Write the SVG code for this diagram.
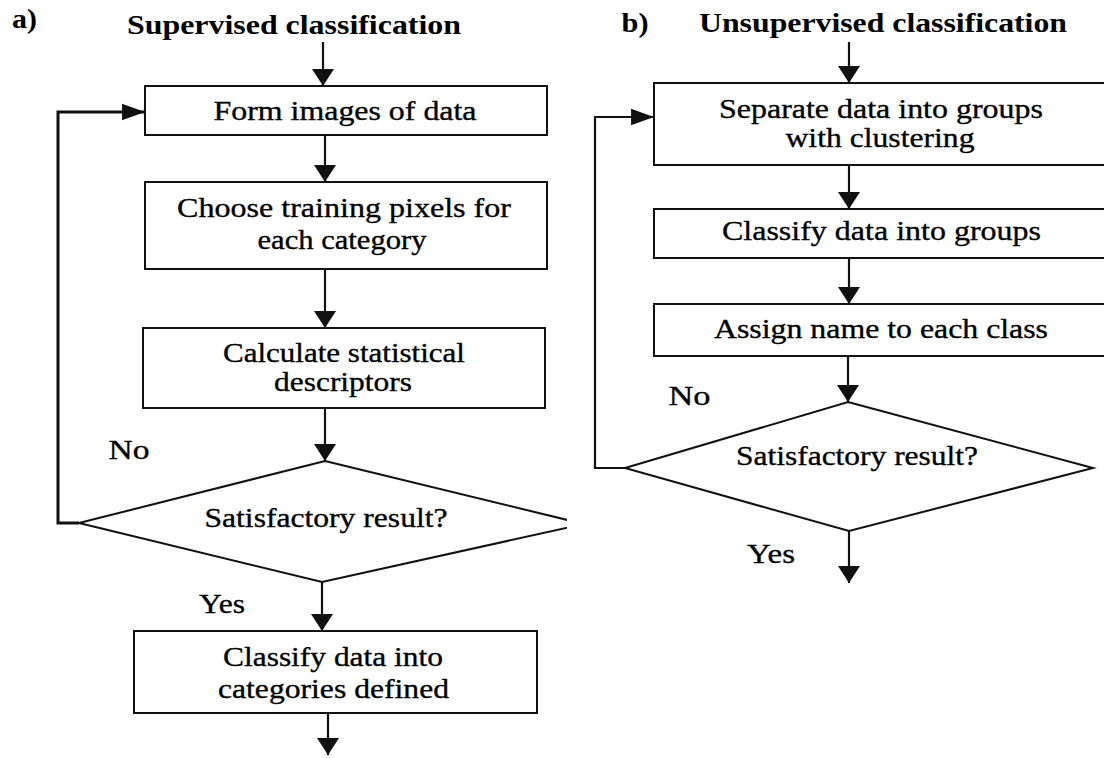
<svg xmlns="http://www.w3.org/2000/svg" width="1104" height="758" viewBox="0 0 1104 758">
<style>
.box{fill:#fff;stroke:#111;stroke-width:2}
.dia{fill:#fff;stroke:#111;stroke-width:2}
.ln{fill:none;stroke:#111;stroke-width:2.2}
.t{font-family:"Liberation Serif","Times New Roman",serif;font-size:28px;fill:#000;stroke:#000;stroke-width:0.35;text-anchor:middle}
.h{font-family:"Liberation Serif","Times New Roman",serif;font-size:28px;font-weight:bold;fill:#000;text-anchor:middle}
</style>
<defs>
<marker id="arrD" markerUnits="userSpaceOnUse" markerWidth="24" markerHeight="24" refX="17" refY="0" viewBox="0 -12 18 24" orient="auto" overflow="visible">
<path d="M0,-11 L17,0 L0,11 z" fill="#111"/>
</marker>
<marker id="arrR" markerUnits="userSpaceOnUse" markerWidth="24" markerHeight="20" refX="22" refY="0" viewBox="0 -9 23 18" orient="auto" overflow="visible">
<path d="M0,-8 L22,0 L0,8 z" fill="#111"/>
</marker>
<clipPath id="clipL"><rect x="0" y="0" width="567" height="758"/></clipPath>
</defs>
<rect width="1104" height="758" fill="#fff"/>

<g id="titles">
<text class="h" x="24.5" y="28" textLength="25" lengthAdjust="spacingAndGlyphs">a)</text>
<text class="h" x="294" y="34" textLength="334" lengthAdjust="spacingAndGlyphs">Supervised classification</text>
<text class="h" x="635" y="32" textLength="27" lengthAdjust="spacingAndGlyphs">b)</text>
<text class="h" x="883" y="32" textLength="368" lengthAdjust="spacingAndGlyphs">Unsupervised classification</text>
</g>

<g id="connectors">
<path class="ln" d="M323,42 L323,86" marker-end="url(#arrD)"/>
<path class="ln" d="M325,135 L325,182" marker-end="url(#arrD)"/>
<path class="ln" d="M325,269 L325,328" marker-end="url(#arrD)"/>
<path class="ln" d="M325,408 L325,461" marker-end="url(#arrD)"/>
<path class="ln" d="M322,582 L322,631" marker-end="url(#arrD)"/>
<path class="ln" d="M328,713 L328,755" marker-end="url(#arrD)"/>
<path class="ln" style="stroke-width:3" d="M79,523 L58,523 L58,112 L145,112" marker-end="url(#arrR)"/>
<path class="ln" d="M849,42 L849,83" marker-end="url(#arrD)"/>
<path class="ln" d="M849,165 L849,209" marker-end="url(#arrD)"/>
<path class="ln" d="M849,258 L849,304" marker-end="url(#arrD)"/>
<path class="ln" d="M848,356 L848,402" marker-end="url(#arrD)"/>
<path class="ln" d="M849,531 L849,583" marker-end="url(#arrD)"/>
<path class="ln" d="M625,468 L595,468 L595,117 L654,117" marker-end="url(#arrR)"/>
</g>

<g id="a-form">
<rect class="box" x="145" y="86" width="402" height="49"/>
<text class="t" x="345" y="120" textLength="263" lengthAdjust="spacingAndGlyphs">Form images of data</text>
</g>
<g id="a-choose">
<rect class="box" x="145" y="182" width="402" height="87"/>
<text class="t" x="344" y="217" textLength="334" lengthAdjust="spacingAndGlyphs">Choose training pixels for</text>
<text class="t" x="342" y="249" textLength="169" lengthAdjust="spacingAndGlyphs">each category</text>
</g>
<g id="a-calc">
<rect class="box" x="143" y="328" width="402" height="80"/>
<text class="t" x="344" y="362" textLength="242" lengthAdjust="spacingAndGlyphs">Calculate statistical</text>
<text class="t" x="343" y="391" textLength="138" lengthAdjust="spacingAndGlyphs">descriptors</text>
</g>
<g id="a-decision">
<polygon class="dia" clip-path="url(#clipL)" points="325,461 584,524 322,582 79,523"/>
<text class="t" x="326" y="527" textLength="243" lengthAdjust="spacingAndGlyphs">Satisfactory result?</text>
</g>
<g id="a-labels">
<text class="t" x="129" y="459" textLength="41" lengthAdjust="spacingAndGlyphs">No</text>
<text class="t" x="222" y="613" textLength="46" lengthAdjust="spacingAndGlyphs">Yes</text>
</g>
<g id="a-classify">
<rect class="box" x="134" y="631" width="403" height="82"/>
<text class="t" x="333" y="666" textLength="220" lengthAdjust="spacingAndGlyphs">Classify data into</text>
<text class="t" x="333.5" y="698" textLength="231" lengthAdjust="spacingAndGlyphs">categories defined</text>
</g>

<g id="b-separate">
<rect class="box" x="654" y="83" width="460" height="82"/>
<text class="t" x="881" y="118" textLength="324" lengthAdjust="spacingAndGlyphs">Separate data into groups</text>
<text class="t" x="880" y="147" textLength="189" lengthAdjust="spacingAndGlyphs">with clustering</text>
</g>
<g id="b-classify">
<rect class="box" x="654" y="209" width="460" height="49"/>
<text class="t" x="881.5" y="240" textLength="319" lengthAdjust="spacingAndGlyphs">Classify data into groups</text>
</g>
<g id="b-assign">
<rect class="box" x="654" y="304" width="460" height="52"/>
<text class="t" x="881" y="338" textLength="334" lengthAdjust="spacingAndGlyphs">Assign name to each class</text>
</g>
<g id="b-decision">
<polygon class="dia" points="848,402 1093,468 849,531 625,468"/>
<text class="t" x="857" y="465" textLength="242" lengthAdjust="spacingAndGlyphs">Satisfactory result?</text>
</g>
<g id="b-labels">
<text class="t" x="689.5" y="405" textLength="42" lengthAdjust="spacingAndGlyphs">No</text>
<text class="t" x="771" y="563" textLength="48" lengthAdjust="spacingAndGlyphs">Yes</text>
</g>
</svg>
